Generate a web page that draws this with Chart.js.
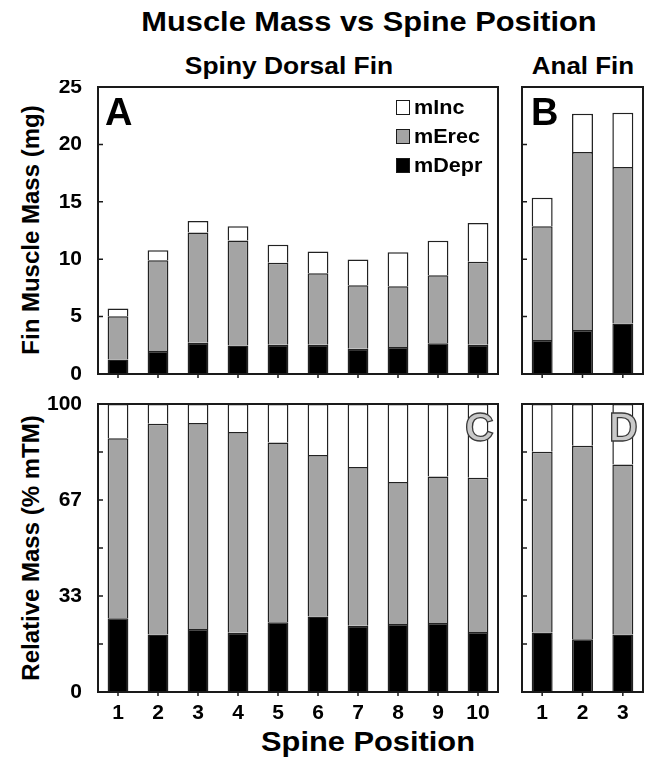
<!DOCTYPE html>
<html>
<head>
<meta charset="utf-8">
<title>Muscle Mass vs Spine Position</title>
<script src="https://cdn.jsdelivr.net/npm/chart.js@4.4.1/dist/chart.umd.min.js"></script>
<style>
  html, body { margin: 0; padding: 0; background: #fff; }
  #fig {
    position: relative; width: 647px; height: 762px; overflow: hidden;
    font-family: "Liberation Sans", Arial, Helvetica, sans-serif; font-weight: bold; color: #000;
  }
  #fig canvas { position: absolute; }
  .txt { position: absolute; white-space: nowrap; line-height: 1; text-align: center; }
  .ytitle { position: absolute; width: 320px; height: 24px; font-size: 24px; line-height: 24px;
            text-align: center; white-space: nowrap; transform: rotate(-90deg); }
  .letter { position: absolute; font-size: 38px; line-height: 38px; white-space: nowrap; }
  .letter.hollow { color: #c9c9c9; -webkit-text-stroke: 1.3px #3a3a3a; font-size: 40px; line-height: 40px; text-align: right; width: 60px; }
  .legend { position: absolute; left: 396px; top: 99px; font-size: 20px; }
  .legend .row { display: flex; align-items: center; height: 16px; margin-bottom: 13px; }
  .legend .sw { width: 12px; height: 13px; border: 1.5px solid #1a1a1a; margin-right: 4px; flex: none; }
  .legend .lab { display: inline-block; transform: scaleX(1.08); transform-origin: left center; }
</style>
</head>
<body>
<div id="fig">
  <div class="txt" style="left:69px; width:600px; top:8px; font-size:28px; transform:scaleX(1.1);">Muscle Mass vs Spine Position</div>
  <div class="txt" style="left:139px; width:300px; top:54px; font-size:24px; transform:scaleX(1.1);">Spiny Dorsal Fin</div>
  <div class="txt" style="left:483px; width:200px; top:54px; font-size:24px; transform:scaleX(1.08);">Anal Fin</div>
  <div class="txt" style="left:218px; width:300px; top:728px; font-size:28px; transform:scaleX(1.1);">Spine Position</div>

  <div class="ytitle" style="left:-129px; top:218px;">Fin Muscle Mass (mg)</div>
  <div class="ytitle" style="left:-129px; top:536px;">Relative Mass (% mTM)</div>

  <canvas id="panelA" width="465" height="310" style="left:40px; top:80px;"></canvas>
  <canvas id="panelB" width="137" height="310" style="left:510px; top:80px;"></canvas>
  <canvas id="panelC" width="465" height="330" style="left:40px; top:395px;"></canvas>
  <canvas id="panelD" width="137" height="330" style="left:510px; top:395px;"></canvas>

  <div class="letter" style="left:105px; top:93px;">A</div>
  <div class="letter" style="left:531px; top:93px;">B</div>
  <div class="letter hollow" style="left:434px; top:407px;">C</div>
  <div class="letter hollow" style="left:578px; top:407px;">D</div>

  <div class="legend">
    <div class="row"><span class="sw" style="background:#ffffff"></span><span class="lab">mInc</span></div>
    <div class="row"><span class="sw" style="background:#a4a4a4"></span><span class="lab">mErec</span></div>
    <div class="row"><span class="sw" style="background:#000000"></span><span class="lab">mDepr</span></div>
  </div>
</div>

<script>
// Spine positions along each fin
const dorsalPositions = ['1', '2', '3', '4', '5', '6', '7', '8', '9', '10'];
const analPositions = ['1', '2', '3'];

// Absolute muscle mass (mg), spiny dorsal fin
const dorsalDepr = [1.27, 2.00, 2.72, 2.49, 2.55, 2.55, 2.20, 2.35, 2.67, 2.55];
const dorsalErec = [3.77, 7.91, 9.60, 9.13, 7.13, 6.23, 5.54, 5.30, 5.94, 7.22];
const dorsalInc  = [0.67, 0.87, 1.01, 1.25, 1.57, 1.89, 2.23, 2.96, 2.99, 3.39];

// Absolute muscle mass (mg), anal fin
const analDepr = [2.96, 3.83, 4.40];
const analErec = [9.91, 15.50, 13.63];
const analInc  = [2.49, 3.34, 4.72];

// Relative mass (% of total fin muscle mass), spiny dorsal fin
const dorsalRelDepr = [25.6, 20.0, 21.9, 20.6, 24.2, 26.2, 23.0, 23.6, 24.0, 20.8];
const dorsalRelErec = [62.5, 73.1, 71.5, 69.7, 62.4, 56.1, 55.1, 49.3, 50.8, 53.6];
const dorsalRelInc  = [11.9, 6.9, 6.6, 9.7, 13.4, 17.7, 21.9, 27.1, 25.2, 25.6];

// Relative mass (% of total fin muscle mass), anal fin
const analRelDepr = [20.7, 18.3, 20.0];
const analRelErec = [62.7, 67.2, 59.0];
const analRelInc  = [16.6, 14.5, 21.0];

// Axis ticks
const massTicks = [0, 5, 10, 15, 20, 25];
const relTickValues = [0, 16.67, 33.33, 50, 66.67, 83.33, 100];
const relTickLabels = ['0', '', '33', '', '67', '', '100'];

const FONT = { family: '"Liberation Sans", Arial, Helvetica, sans-serif', weight: 'bold', size: 21 };
const COLORS = { depr: '#000000', erec: '#a4a4a4', inc: '#ffffff', edge: '#222222' };

// Box frame, inward y ticks and outward category ticks
const frameTicks = {
  id: 'frameTicks',
  afterDatasetsDraw(chart) {
    const { ctx, chartArea: a, scales: { x, y } } = chart;
    ctx.save();
    ctx.strokeStyle = '#1a1a1a';
    ctx.lineWidth = 1.5;
    ctx.beginPath();
    y.ticks.forEach(t => {
      if (t.value > y.min && t.value < y.max) {
        const py = y.getPixelForValue(t.value);
        ctx.moveTo(a.left, py);
        ctx.lineTo(a.left + 5, py);
      }
    });
    chart.data.labels.forEach((_, i) => {
      const px = x.getPixelForValue(i);
      ctx.moveTo(px, a.bottom);
      ctx.lineTo(px, a.bottom + 4);
    });
    ctx.stroke();
    ctx.lineWidth = 2;
    ctx.strokeRect(a.left, a.top, a.right - a.left, a.bottom - a.top);
    ctx.restore();
  }
};

// Fixed axis sizes, so each plot box lands at a set place in its canvas
function fixBox(s, w, h) {
  if (w !== null) s.width = w;
  if (h !== null) s.height = h;
  s.paddingTop = 0; s.paddingBottom = 0; s.paddingLeft = 0; s.paddingRight = 0;
}

function makeDatasets(depr, erec, inc) {
  const common = { barPercentage: 0.52, categoryPercentage: 1.0, borderWidth: 1.5, borderColor: COLORS.edge };
  return [
    Object.assign({ label: 'mDepr', data: depr, backgroundColor: COLORS.depr }, common),
    Object.assign({ label: 'mErec', data: erec, backgroundColor: COLORS.erec }, common),
    Object.assign({ label: 'mInc', data: inc, backgroundColor: COLORS.inc }, common)
  ];
}

function makePanel(id, cfg) {
  new Chart(document.getElementById(id), {
    type: 'bar',
    data: { labels: cfg.labels, datasets: makeDatasets(cfg.depr, cfg.erec, cfg.inc) },
    options: {
      responsive: false,
      animation: false,
      devicePixelRatio: 1,
      layout: { autoPadding: false, padding: { left: 0, right: cfg.padRight, top: cfg.padTop, bottom: 0 } },
      plugins: { legend: { display: false }, tooltip: { enabled: false }, title: { display: false } },
      scales: {
        x: {
          stacked: true,
          grid: { display: false },
          border: { display: false },
          ticks: { display: cfg.showX, font: FONT, color: '#000', padding: 1, maxRotation: 0, autoSkip: false },
          afterFit(s) { fixBox(s, null, cfg.xHeight); }
        },
        y: {
          stacked: true,
          min: cfg.min,
          max: cfg.max,
          grid: { display: false },
          border: { display: false },
          ticks: {
            display: cfg.showY, font: FONT, color: '#000', padding: 8,
            callback: (v, i) => cfg.tickLabels[i]
          },
          afterBuildTicks(s) { s.ticks = cfg.tickValues.map(v => ({ value: v })); },
          afterFit(s) { fixBox(s, cfg.yWidth, null); }
        }
      }
    },
    plugins: [frameTicks]
  });
}

const massLabels = massTicks.map(String);

makePanel('panelA', {
  labels: dorsalPositions, depr: dorsalDepr, erec: dorsalErec, inc: dorsalInc,
  min: 0, max: 25, tickValues: massTicks, tickLabels: massLabels,
  showX: false, showY: true, yWidth: 58, xHeight: 16, padTop: 7, padRight: 7
});
makePanel('panelB', {
  labels: analPositions, depr: analDepr, erec: analErec, inc: analInc,
  min: 0, max: 25, tickValues: massTicks, tickLabels: massLabels,
  showX: false, showY: false, yWidth: 12, xHeight: 16, padTop: 7, padRight: 4
});
makePanel('panelC', {
  labels: dorsalPositions, depr: dorsalRelDepr, erec: dorsalRelErec, inc: dorsalRelInc,
  min: 0, max: 100, tickValues: relTickValues, tickLabels: relTickLabels,
  showX: true, showY: true, yWidth: 58, xHeight: 33, padTop: 9, padRight: 7
});
makePanel('panelD', {
  labels: analPositions, depr: analRelDepr, erec: analRelErec, inc: analRelInc,
  min: 0, max: 100, tickValues: relTickValues, tickLabels: relTickLabels,
  showX: true, showY: false, yWidth: 12, xHeight: 33, padTop: 9, padRight: 4
});
</script>
</body>
</html>
